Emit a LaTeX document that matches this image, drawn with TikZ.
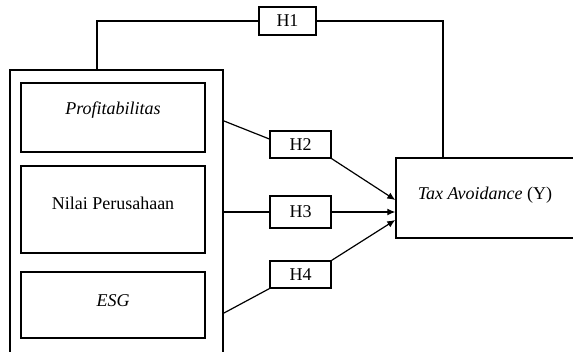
\documentclass[tikz,border=0pt]{standalone}
\usepackage{fontspec}
\setmainfont{Liberation Serif}
\usetikzlibrary{arrows.meta}

\begin{document}
\begin{tikzpicture}[x = 1pt, y = -1pt,
        varbox/.style = {draw, line width = 1.4pt, inner sep = 0pt, font = \fontsize{18}{21}\selectfont},
        hbox/.style = {draw, line width = 1.2pt, minimum width = 61pt, minimum height = 27pt, inner sep = 0pt, font = \fontsize{18}{21}\selectfont},
        link/.style = {line width = 1.2pt},
        panah/.style = {line width = 1.2pt, -{Latex[length = 8pt, width = 7pt]}}]
        \useasboundingbox (0, 0) rectangle (573, 351);
        \clip (0, 0) rectangle (573, 351);
        \node[draw, line width = 2pt, minimum width = 213pt, minimum height = 330pt] (grup) at (116.5, 235) {};
        \node[varbox, minimum width = 184pt, text height = 31pt, text depth = 38pt] (prof) at (113, 117.5) {\textit{Profitabilitas}};
        \node[varbox, minimum width = 184pt, text height = 43pt, text depth = 44pt] (nilai) at (113, 209.5) {Nilai Perusahaan};
        \node[varbox, minimum width = 184pt, text height = 34pt, text depth = 32pt] (esg) at (113, 305) {\textit{ESG}};
        \node[varbox, minimum width = 178pt, text height = 41pt, text depth = 39pt] (tax) at (485, 198) {\textit{Tax Avoidance} (Y)};
        \node[hbox, minimum width = 57pt, minimum height = 28pt] (h1) at (287.5, 21) {H1};
        \node[hbox] (h2) at (300.5, 144.5) {H2};
        \node[hbox, minimum height = 32pt] (h3) at (300.5, 212) {H3};
        \node[hbox] (h4) at (300.5, 274.5) {H4};
        \draw[line width = 2pt] ([xshift = -19.5pt]grup.north) |- (h1.west);
        \draw[line width = 2pt] (h1.east) -| ([xshift = 48pt]tax.north west);
        \draw[link] (grup.east |- 0, 121) -- (h2.170);
        \draw[link] (grup.east |- h3.west) -- (h3.west);
        \draw[link] (grup.east |- 0, 313) -- (h4.south west);
        \draw[panah] (h2.south east) -- ([yshift = -2pt]tax.west);
        \draw[panah] (h3.east) -- (tax.west |- h3.east);
        \draw[panah] (h4.north east) -- ([yshift = -22pt]tax.west);
    \end{tikzpicture}
\end{document}
